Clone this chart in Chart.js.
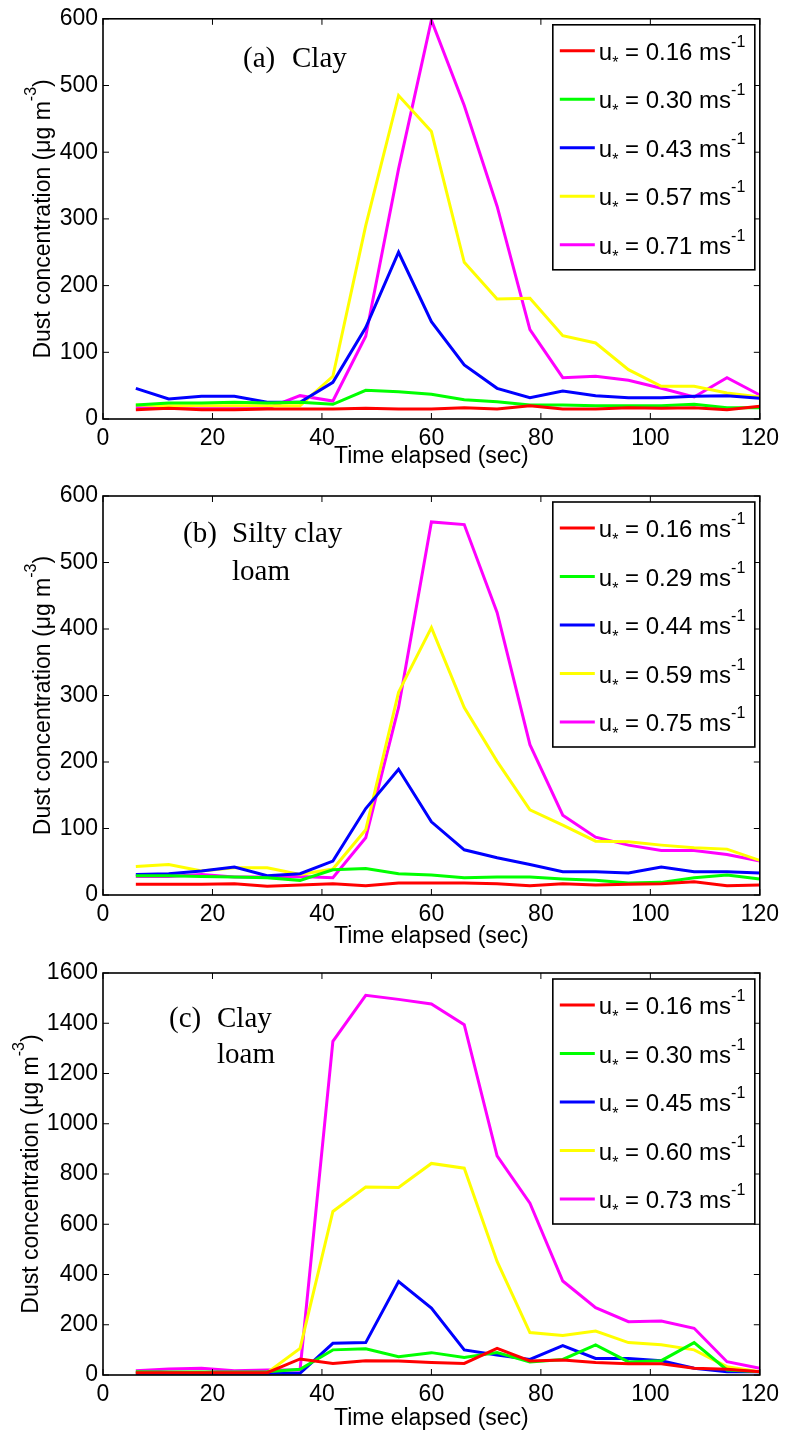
<!DOCTYPE html>
<html>
<head>
<meta charset="utf-8">
<script src="https://cdn.jsdelivr.net/npm/chart.js@4"></script>
<style>
body { margin: 0; background: #fff; }
canvas { position: absolute; left: 0; }
</style>
</head>
<body>
<canvas id="chartA" width="785" height="470" style="top:0px"></canvas>
<canvas id="chartB" width="785" height="480" style="top:470px"></canvas>
<canvas id="chartC" width="785" height="482" style="top:950px"></canvas>
<script>
// time axis (sec)
const time = [6, 12, 18, 24, 30, 36, 42, 48, 54, 60, 66, 72, 78, 84, 90, 96, 102, 108, 114, 120];

// (a) Clay
const uA = ['0.16', '0.30', '0.43', '0.57', '0.71'];
const redA = [14, 16, 14, 14, 15, 15, 15, 16, 15, 15, 17, 15, 20, 15, 15, 17, 16, 17, 14, 19];
const greenA = [21, 24, 24, 25, 24, 25, 22, 43, 41, 37, 29, 26, 21, 21, 20, 20, 20, 22, 17, 17];
const blueA = [46, 30, 34, 34, 25, 25, 55, 137, 250, 146, 81, 46, 32, 42, 35, 32, 32, 34, 35, 31];
const yellowA = [21, 20, 20, 20, 20, 20, 64, 290, 485, 431, 235, 180, 181, 125, 114, 74, 49, 49, 39, 33];
const magentaA = [18, 19, 16, 16, 16, 35, 27, 124, 375, 598, 470, 319, 134, 62, 64, 58, 46, 33, 62, 36];

// (b) Silty clay loam
const uB = ['0.16', '0.29', '0.44', '0.59', '0.75'];
const redB = [16, 16, 16, 17, 13, 15, 17, 14, 18, 18, 18, 17, 14, 17, 15, 16, 17, 20, 14, 15];
const greenB = [29, 29, 28, 27, 26, 22, 38, 40, 32, 30, 26, 27, 27, 24, 22, 18, 19, 26, 30, 24];
const blueB = [31, 32, 36, 42, 29, 32, 51, 130, 189, 110, 68, 56, 46, 35, 35, 33, 42, 35, 35, 33];
const yellowB = [43, 46, 36, 41, 41, 31, 39, 98, 305, 402, 282, 201, 128, 105, 81, 80, 75, 71, 69, 52];
const magentaB = [28, 28, 31, 27, 27, 28, 26, 86, 282, 561, 557, 425, 226, 120, 87, 75, 67, 67, 61, 51];

// (c) Clay loam
const uC = ['0.16', '0.30', '0.45', '0.60', '0.73'];
const redC = [9, 9, 9, 9, 9, 64, 46, 57, 56, 50, 46, 106, 56, 60, 50, 45, 45, 27, 23, 13];
const greenC = [13, 12, 12, 12, 13, 23, 100, 104, 73, 89, 70, 89, 52, 62, 120, 52, 57, 129, 20, 13];
const blueC = [7, 7, 7, 7, 7, 7, 126, 129, 372, 266, 100, 80, 62, 117, 66, 66, 57, 27, 13, 13];
const yellowC = [9, 9, 7, 9, 9, 106, 651, 748, 746, 842, 823, 452, 169, 157, 175, 129, 120, 100, 33, 13];
const magentaC = [17, 24, 27, 17, 20, 20, 1328, 1511, 1495, 1477, 1394, 872, 684, 374, 268, 212, 215, 186, 53, 27];

const colors = ['#ff0000', '#00ff00', '#0000ff', '#ffff00', '#ff00ff'];
const fam = '"Liberation Sans", Arial, sans-serif';
const serif = '"Liberation Serif", "Times New Roman", serif';

Chart.defaults.font.family = fam;
Chart.defaults.color = '#000';

// matlab-like box, inward ticks, y title, panel label and legend
const matlabFrame = {
    id: 'matlabFrame',
    afterDraw(chart, args, opts) {
        const { ctx, chartArea: a, scales } = chart;
        ctx.save();
        ctx.strokeStyle = '#000';
        ctx.lineWidth = 1;
        ctx.beginPath();
        scales.x.ticks.forEach(t => {
            const px = scales.x.getPixelForValue(t.value);
            ctx.moveTo(px, a.bottom); ctx.lineTo(px, a.bottom - 6);
            ctx.moveTo(px, a.top); ctx.lineTo(px, a.top + 6);
        });
        scales.y.ticks.forEach(t => {
            const py = scales.y.getPixelForValue(t.value);
            ctx.moveTo(a.left, py); ctx.lineTo(a.left + 6, py);
            ctx.moveTo(a.right, py); ctx.lineTo(a.right - 6, py);
        });
        ctx.stroke();
        ctx.lineWidth = 1.6;
        ctx.strokeRect(a.left, a.top, a.right - a.left, a.bottom - a.top);

        // y title with superscript
        ctx.save();
        ctx.translate(a.left - opts.yTitleOffset, (a.top + a.bottom) / 2);
        ctx.rotate(-Math.PI / 2);
        ctx.fillStyle = '#000';
        ctx.textBaseline = 'alphabetic';
        ctx.textAlign = 'left';
        const p1 = 'Dust concentration (\u03bcg m', p2 = '-3', p3 = ')';
        ctx.font = '23px ' + fam;
        const w1 = ctx.measureText(p1).width, w3 = ctx.measureText(p3).width;
        ctx.font = '16px ' + fam;
        const w2 = ctx.measureText(p2).width;
        let tx = -(w1 + w2 + w3) / 2;
        ctx.font = '23px ' + fam;
        ctx.fillText(p1, tx, 0); tx += w1;
        ctx.font = '16px ' + fam;
        ctx.fillText(p2, tx, -14); tx += w2;
        ctx.font = '23px ' + fam;
        ctx.fillText(p3, tx, 0);
        ctx.restore();

        // panel label
        ctx.fillStyle = '#000';
        ctx.textAlign = 'left';
        ctx.textBaseline = 'alphabetic';
        ctx.font = '29px ' + serif;
        opts.label.forEach(l => ctx.fillText(l[0], l[1], l[2]));

        // legend
        const bw = 202, bh = 245, rowH = 48.5;
        const bx = a.right - 5 - bw, by = a.top + 6;
        ctx.fillStyle = '#fff';
        ctx.fillRect(bx, by, bw, bh);
        ctx.lineWidth = 1.6;
        ctx.strokeRect(bx, by, bw, bh);
        chart.data.datasets.forEach((ds, i) => {
            const cy = by + 26 + i * rowH;
            ctx.strokeStyle = ds.borderColor;
            ctx.lineWidth = 3;
            ctx.beginPath();
            ctx.moveTo(bx + 7, cy); ctx.lineTo(bx + 42, cy);
            ctx.stroke();
            ctx.fillStyle = '#000';
            const base = cy + 9;
            let x = bx + 46;
            ctx.font = '24px ' + fam;
            ctx.fillText('u', x, base); x += ctx.measureText('u').width;
            ctx.font = '16px ' + fam;
            ctx.fillText('*', x, base + 8); x += ctx.measureText('*').width;
            ctx.font = '24px ' + fam;
            const mid = ' = ' + ds.label + ' ms';
            ctx.fillText(mid, x, base); x += ctx.measureText(mid).width;
            ctx.font = '16px ' + fam;
            ctx.fillText('-1', x, base - 13);
        });
        ctx.restore();
    }
};

function makePanel(id, series, uvals, yMax, yStep, xHeight, pad, yTitleOffset, label) {
    return new Chart(document.getElementById(id), {
        type: 'line',
        data: {
            labels: time,
            datasets: series.map((s, i) => ({
                label: uvals[i],
                data: s,
                borderColor: colors[i],
                backgroundColor: colors[i],
                borderWidth: 3,
                pointRadius: 0,
                tension: 0
            }))
        },
        options: {
            responsive: false,
            animation: false,
            layout: { padding: pad },
            plugins: {
                legend: { display: false },
                tooltip: { enabled: false },
                matlabFrame: { yTitleOffset: yTitleOffset, label: label }
            },
            scales: {
                x: {
                    type: 'linear', min: 0, max: 120,
                    grid: { display: false, drawTicks: false },
                    border: { display: false },
                    ticks: { stepSize: 20, padding: 6, maxRotation: 0, font: { size: 23 }, color: '#000',
                        callback: v => String(v) },
                    title: { display: true, text: 'Time elapsed (sec)', font: { size: 23 }, color: '#000', padding: 0 },
                    afterFit(s) { s.height = xHeight; }
                },
                y: {
                    min: 0, max: yMax,
                    grid: { display: false, drawTicks: false },
                    border: { display: false },
                    ticks: { stepSize: yStep, padding: 5, font: { size: 23 }, color: '#000',
                        callback: v => String(v) },
                    afterFit(s) { s.width = 103; }
                }
            }
        },
        plugins: [matlabFrame]
    });
}

makePanel('chartA', [redA, greenA, blueA, yellowA, magentaA], uA, 600, 100, 51,
    { top: 18, right: 23, left: 0, bottom: 0 }, 53,
    [['(a)', 243, 67], ['Clay', 292, 67]]);
makePanel('chartB', [redB, greenB, blueB, yellowB, magentaB], uB, 600, 100, 55,
    { top: 26, right: 25, left: 0, bottom: 0 }, 53,
    [['(b)', 183, 72], ['Silty clay', 232, 72], ['loam', 232, 110]]);
makePanel('chartC', [redC, greenC, blueC, yellowC, magentaC], uC, 1600, 200, 57,
    { top: 23, right: 19, left: 0, bottom: 0 }, 65,
    [['(c)', 169, 77], ['Clay', 217, 77], ['loam', 217, 113]]);
</script>
</body>
</html>
